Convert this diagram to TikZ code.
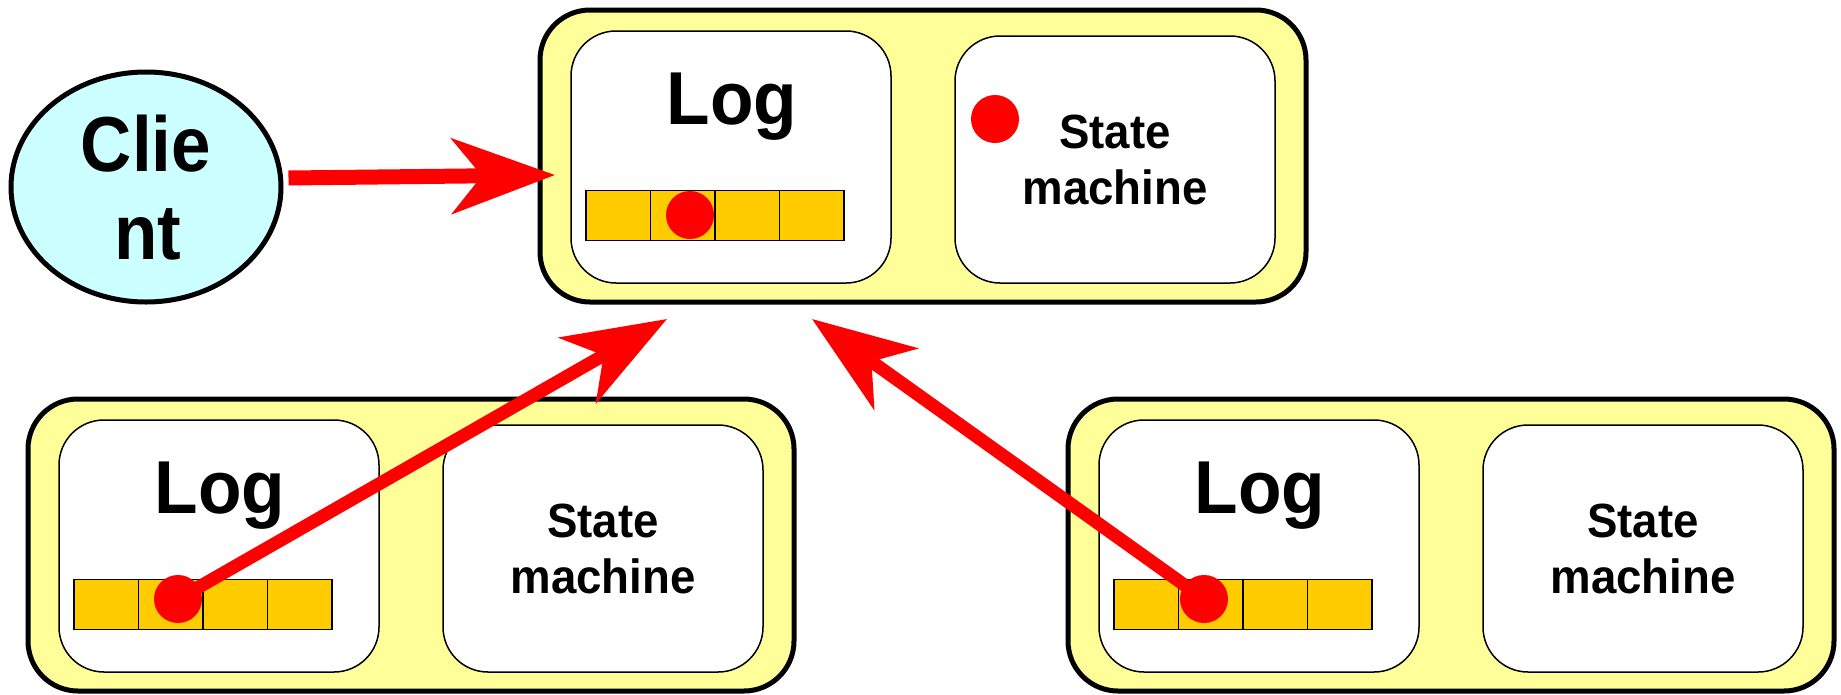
\documentclass[tikz,border=0pt]{standalone}
\usepackage{fontspec}
\setmainfont{Liberation Sans}
\newfontfamily\labelfont[FakeStretch=0.95]{Liberation Sans}
\newfontfamily\clientfont[FakeStretch=0.91]{Liberation Sans}
\usetikzlibrary{arrows.meta,shapes.geometric}

\definecolor{srvyellow}{HTML}{FFFF99}
\definecolor{cellgold}{HTML}{FFCC00}
\definecolor{clientcyan}{HTML}{CCFFFF}
\definecolor{tokred}{HTML}{FF0000}

\tikzset{
  server/.style={draw, line width=5pt, fill=srvyellow, rounded corners=50pt,
    minimum width=766pt, minimum height=292pt, inner sep=0pt},
  logbox/.style={draw, line width=1.5pt, fill=white, rounded corners=45pt,
    minimum width=320pt, minimum height=252pt, inner sep=0pt},
  smbox/.style={draw, line width=1.5pt, fill=white, rounded corners=45pt,
    minimum width=320pt, minimum height=247pt, inner sep=0pt},
  cell/.style={draw, line width=1.8pt, fill=cellgold,
    minimum width=64.5pt, minimum height=50pt, inner sep=0pt},
  logtitle/.style={anchor=base, inner sep=0pt,
    font=\labelfont\bfseries\fontsize{75}{80}\selectfont},
  smtitle/.style={anchor=base, inner sep=0pt,
    font=\labelfont\bfseries\fontsize{48}{56}\selectfont},
  clienttext/.style={anchor=base, inner sep=0pt,
    font=\clientfont\bfseries\fontsize{78}{88}\selectfont},
  token/.style={circle, fill=tokred, minimum size=48pt, inner sep=0pt},
  msg/.style={draw=tokred, line width=13pt,
    -{Stealth[length=103pt, width=75pt, inset=30pt]}},
  pics/server/.style={code={
    \node[server] (-box) at (385,148) {};
    \node[logbox] (-log) at (193,149) {};
    \node[smbox] (-sm) at (577,151.5) {};
    \node[logtitle] (-logtxt) at (194,116) {Log};
    \foreach \i in {0,...,3}
      \node[cell] (-c\i) at (80.25+64.5*\i,207.5) {};
    \node[smtitle] (-smtxtA) at (577,140) {State};
    \node[smtitle] (-smtxtB) at (577,196) {machine};
  }}
}

\begin{document}
\begin{tikzpicture}[x=1pt,y=-1pt]
  \useasboundingbox (0,0) rectangle (1841,694);

  % three replicas
  \pic (top) at (538,8) {server};
  \pic (left) at (26,397) {server};
  \pic (right) at (1066,397) {server};

  % client
  \node[ellipse, draw, line width=5pt, fill=clientcyan,
        minimum width=270pt, minimum height=230pt, inner sep=0pt] (client) at (146,187) {};
  \node[clienttext] (clientA) at (146,171) {Clie};
  \node[clienttext] (clientB) at (148,259) {nt};

  % log entries and applied state
  \node[token] (topdot) at (690,215) {};
  \node[token] (smdot) at (995,119) {};
  \node[token] (leftdot) at (178,599) {};
  \node[token] (rightdot) at (1204,599) {};

  % message arrows
  \coordinate (tipA) at (555,175);
  \coordinate (tipB) at (667,319);
  \coordinate (tipC) at (812,319);
  \draw[msg, line width=15pt] ([xshift=5pt,yshift=9pt]client.east) -- (tipA);
  \draw[msg] (leftdot.center) -- (tipB);
  \draw[msg] (rightdot.center) -- (tipC);
\end{tikzpicture}
\end{document}
